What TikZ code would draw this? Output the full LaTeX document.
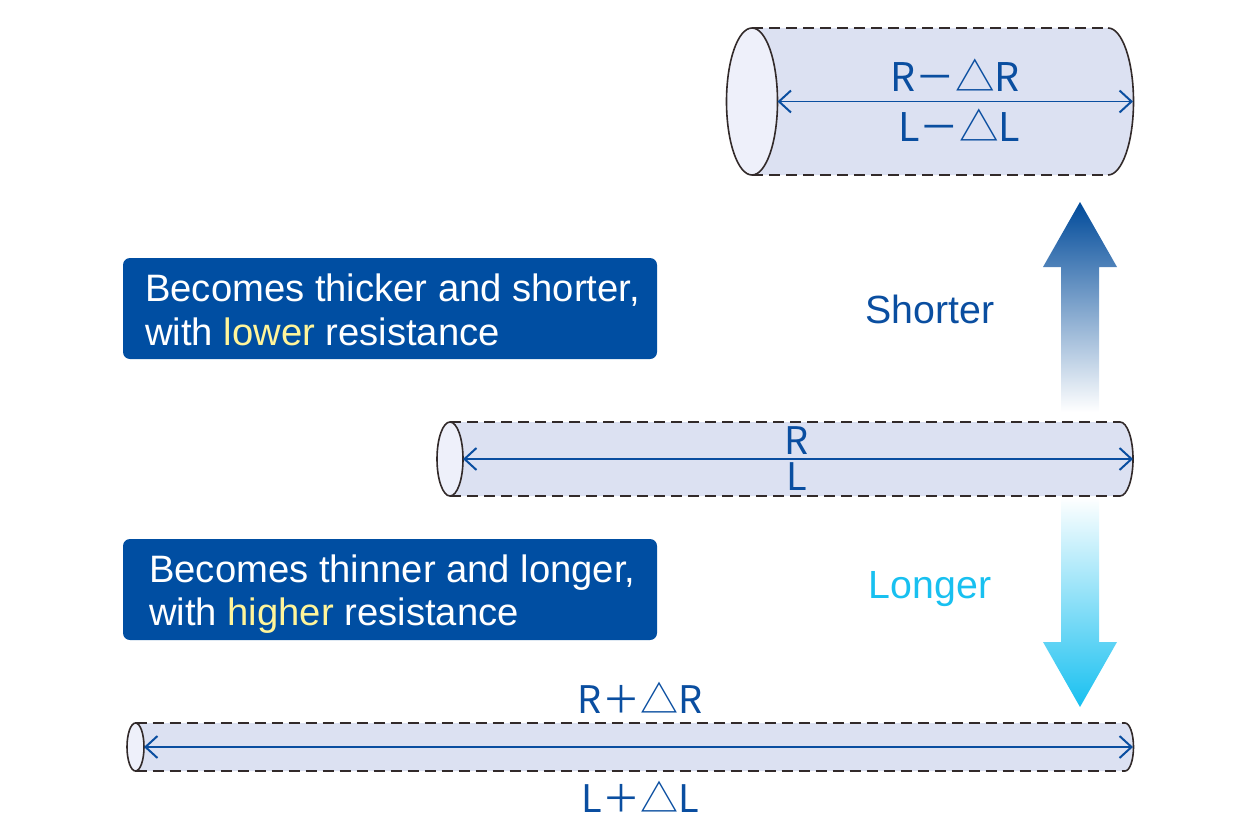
\documentclass[tikz,border=0pt]{standalone}
\usepackage{fontspec}
\setmainfont{Liberation Sans}
\newfontfamily\jpfont{Noto Sans CJK JP}
\usetikzlibrary{arrows.meta,shapes.geometric}
\definecolor{bleu}{RGB}{0,78,162}
\definecolor{bleutexte}{RGB}{10,78,160}
\definecolor{ciel}{RGB}{24,192,240}
\definecolor{jaune}{RGB}{255,245,154}
\definecolor{corps}{RGB}{220,225,242}
\definecolor{face}{RGB}{238,240,250}
\definecolor{trait}{RGB}{50,42,42}

\begin{document}
\begin{tikzpicture}[x=1pt,y=-1pt]
\tikzset{bord/.style={draw=trait, line width=1.6pt},
  tirets/.style={bord, dash pattern=on 11pt off 6pt},
  bout/.style={ellipse, bord, fill=face, inner sep=0pt, outer sep=0pt},
  fleche/.style={draw=bleutexte, line width=1.5pt, {Straight Barb[length=12pt,width=22pt,line width=2pt]}-{Straight Barb[length=12pt,width=22pt,line width=2pt]}},
  etiquette/.style={text=bleutexte, inner sep=0pt, anchor=base, font=\jpfont\fontsize{38}{38}\selectfont},
  boite/.style={fill=bleu, rounded corners=7pt, inner sep=0pt},
  ligne/.style={text=white, inner sep=0pt, anchor=base west, font=\fontsize{38.2}{45}\selectfont}}
\useasboundingbox (0,0) rectangle (1260,840);
\fill[corps] (752,28) -- (1108,28) arc[start angle=-90, end angle=90, x radius=25.5, y radius=73.5] -- (752,175) -- cycle;
\draw[tirets] (752,28) -- (1108,28);
\draw[tirets] (752,175) -- (1108,175);
\draw[bord] (1108,28) arc[start angle=-90, end angle=90, x radius=25.5, y radius=73.5];
\node[bout, minimum width=51pt, minimum height=147pt] (B1) at (752,101.5) {};
\coordinate (D1) at (1133,101.5);
\draw[fleche] (B1.east) -- (D1);
\node[etiquette, font=\jpfont\fontsize{39.5}{39.5}\selectfont] (R1) at (955,91.5) {R－△R};
\node[etiquette, font=\jpfont\fontsize{39.5}{39.5}\selectfont] (L1) at (959,141.5) {L－△L};
\fill[corps] (450,422) -- (1120,422) arc[start angle=-90, end angle=90, x radius=13, y radius=37] -- (450,496) -- cycle;
\draw[tirets] (450,422) -- (1120,422);
\draw[tirets] (450,496) -- (1120,496);
\draw[bord] (1120,422) arc[start angle=-90, end angle=90, x radius=13, y radius=37];
\node[bout, minimum width=26pt, minimum height=74pt] (B2) at (450,459) {};
\coordinate (D2) at (1133,459);
\draw[fleche] (B2.east) -- (D2);
\node[etiquette] (R2) at (797,454) {R};
\node[etiquette] (L2) at (797,490) {L};
\fill[corps] (135.5,723) -- (1125,723) arc[start angle=-90, end angle=90, x radius=8.5, y radius=24] -- (135.5,771) -- cycle;
\draw[tirets] (135.5,723) -- (1125,723);
\draw[tirets] (135.5,771) -- (1125,771);
\draw[bord] (1125,723) arc[start angle=-90, end angle=90, x radius=8.5, y radius=24];
\node[bout, minimum width=17pt, minimum height=48pt] (B3) at (135.5,747) {};
\coordinate (D3) at (1133,747);
\draw[fleche] (B3.east) -- (D3);
\node[etiquette] (R3) at (640,713) {R＋△R};
\node[etiquette] (L3) at (640,812) {L＋△L};
\shade[top color=bleu!95!black, bottom color=white] (1061,412) -- (1061,267) -- (1043,267) -- (1080,202) -- (1117,267) -- (1099,267) -- (1099,412) -- cycle;
\shade[top color=white, bottom color=ciel] (1061,497) -- (1061,642) -- (1043,642) -- (1080,707) -- (1117,642) -- (1099,642) -- (1099,497) -- cycle;
\node[text=bleutexte, anchor=base, inner sep=0pt, font=\fontsize{39.3}{39.3}\selectfont] (court) at (930,323) {Shorter};
\node[text=ciel, anchor=base, inner sep=0pt, font=\fontsize{39.3}{39.3}\selectfont] (long) at (930,598) {Longer};
\node[boite, minimum width=534pt, minimum height=101pt] (boite1) at (390,308.5) {};
\node[ligne] (T1) at (145,301) {Becomes thicker and shorter,};
\node[ligne] (T2) at (145,345) {with \textcolor{jaune}{lower} resistance};
\node[boite, minimum width=534pt, minimum height=101pt] (boite2) at (390,589.5) {};
\node[ligne] (T3) at (149,582) {Becomes thinner and longer,};
\node[ligne] (T4) at (149,625) {with \textcolor{jaune}{higher} resistance};
\end{tikzpicture}
\end{document}
